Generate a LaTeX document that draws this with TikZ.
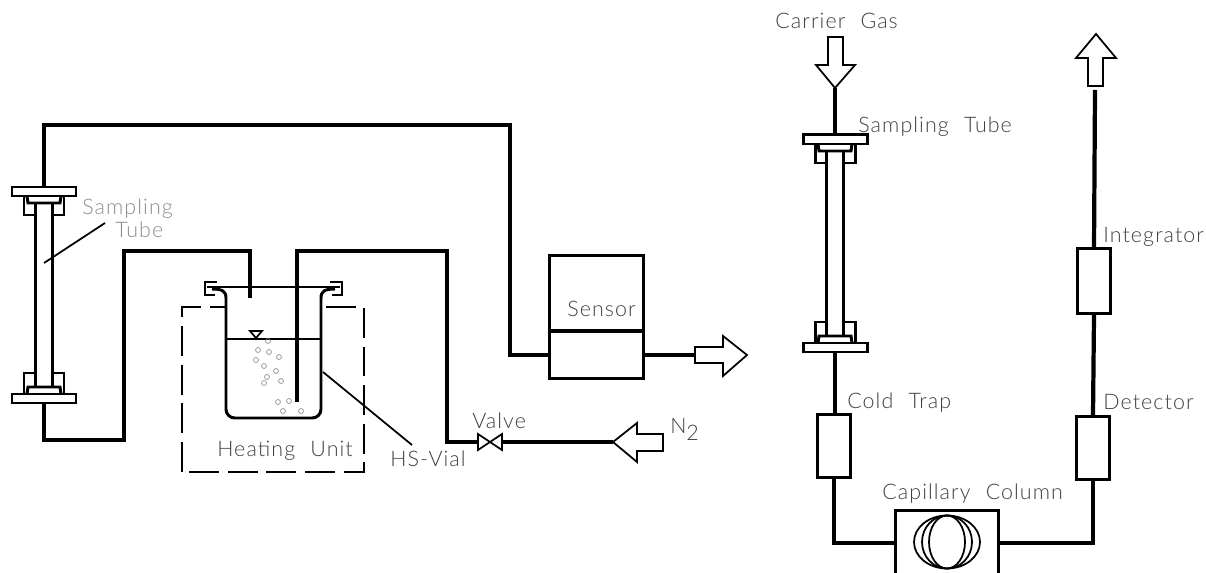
\documentclass[tikz,border=0pt]{standalone}
\usepackage{fontspec}
\setmainfont[LetterSpace=5,WordSpace=2.2]{Lato Light}
\tikzset{
  pipe/.style={line width=2.4pt},
  wall/.style={line width=1.7pt},
  thin wall/.style={line width=1pt},
  unit/.style={draw,line width=1.7pt,inner sep=0pt,minimum width=#1},
  lbl/.style={inner sep=0pt,anchor=base west,text=black!75,font=\fontsize{12.2}{13}\selectfont},
  bubble/.style={draw=black!50,line width=.35pt,circle,inner sep=0pt,minimum size=2.8pt},
}
% one sampling tube, flanges included, centre at #1, from y #2 to y #3
\newcommand{\samplingtube}[3]{
  \draw[wall] (#1-32,#2) rectangle (#1+32,#2+9);
  \draw[wall] (#1-17,#2+9) -- (#1-16,#2+16) -- (#1+16,#2+16) -- (#1+17,#2+9);
  \draw[wall] (#1-20,#2+9) -- (#1-20,#2+28) -- (#1-8.5,#2+28);
  \draw[wall] (#1+20,#2+9) -- (#1+20,#2+28) -- (#1+8.5,#2+28);
  \draw[wall] (#1-8.5,#2+16) -- (#1-8.5,#3-16);
  \draw[wall] (#1+8.5,#2+16) -- (#1+8.5,#3-16);
  \draw[wall] (#1-32,#3) rectangle (#1+32,#3-9);
  \draw[wall] (#1-17,#3-9) -- (#1-16,#3-16) -- (#1+16,#3-16) -- (#1+17,#3-9);
  \draw[wall] (#1-20,#3-9) -- (#1-20,#3-30) -- (#1-8.5,#3-30);
  \draw[wall] (#1+20,#3-9) -- (#1+20,#3-30) -- (#1+8.5,#3-30);
}
\begin{document}
\begin{tikzpicture}[x=0.02cm,y=-0.02cm]
  \useasboundingbox (0,0) rectangle (1206,573);

  % heating unit, vial on top of it
  \draw[wall,dash pattern=on 17pt off 5pt] (182,472) -- (182,307) -- (364,307) -- (364,472) -- cycle;
  \fill[white] (226,295) rectangle (321,418);
  \draw[wall,rounded corners=5pt] (226,298) -- (226,418) -- (321,418) -- (321,298);
  \draw[wall] (226,298) .. controls (226,291) and (222,289) .. (212,289);
  \draw[wall] (321,298) .. controls (321,291) and (325,289) .. (335,289);
  \draw[wall] (215,295) -- (205,295) -- (205,282) -- (217,282);
  \draw[wall] (332,295) -- (342,295) -- (342,282) -- (330,282);
  \draw[wall] (207,287) -- (340,287);
  \draw[thin wall] (226,339) -- (321,339);
  \draw[thin wall] (250,331) -- (262,331) -- (256,338) -- cycle;
  \foreach \bx/\by in {258/350,269/352,256/360,279/357,264/366,276/371,267/377,264/383,281/381,289/401,278/402,283/411,301/411,268/341}
    \node[bubble] at (\bx,\by) {};

  % left side
  \samplingtube{44}{187}{403}
  \coordinate (tubetop) at (44,187);
  \coordinate (tubebottom) at (44,403);
  \coordinate (tubeinner) at (250,298);
  \coordinate (sparger) at (297,402);
  \node[unit=95*0.567pt,minimum height=76*0.567pt] (sensorupper) at (596.5,293) {};
  \node[unit=95*0.567pt,minimum height=48*0.567pt] (sensorlower) at (596.5,355) {};
  \node[lbl] at (567,317) {Sensor};

  \coordinate (valveleft) at (478,442);
  \coordinate (valveright) at (502,442);
  \draw[thin wall] (valveleft) -- ++(0,-8) -- (502,450) -- ++(0,-16) -- (478,450) -- cycle;

  \draw[pipe] (tubetop) |- (510,125) |- (sensorlower.west);
  \draw[pipe] (tubebottom) |- (124,440) |- (250,251) -- (tubeinner);
  \draw[pipe] (sparger) |- (447,251) |- (valveleft);

  \coordinate (nitrogentip) at (613,442);
  \draw[thin wall] (nitrogentip) -- (637,423) -- (637,434) -- (663,434) -- (663,451) -- (637,451) -- (637,462) -- cycle;
  \draw[pipe] (valveright) -- (nitrogentip);

  \coordinate (venttail) at (695,355);
  \draw[thin wall] (venttail) -- (695,347) -- (723,347) -- (723,336) -- (747,355) -- (723,376) -- (723,363) -- (695,363) -- cycle;
  \draw[pipe] (sensorlower.east) -- (venttail);

  \draw[thin wall] (44,263) -- (105,223);
  \draw[thin wall] (323,372) -- (412,445);
  \node[lbl,text=black!45] at (82,215) {Sampling};
  \node[lbl,text=black!45] at (115,238) {Tube};
  \node[lbl] at (217,457) {Heating Unit};
  \node[lbl] at (390,467) {HS-Vial};
  \node[lbl] at (472,429) {Valve};
  \node[lbl] at (670,434) {N};
  \node[lbl] at (686,441) {2};

  % right side
  \samplingtube{835}{135}{352}
  \node[unit=33*0.567pt,minimum height=64*0.567pt] (coldtrap) at (834,446) {};
  \node[minimum width=103*0.567pt,minimum height=64*0.567pt,inner sep=0pt] (column) at (947,543) {};
  \draw[wall] (column.south west) |- (column.north east) -- (column.south east);
  \foreach \rx in {33,25,18}
    \draw[thin wall] (947,542) ellipse[x radius=\rx,y radius=26.5];
  \node[unit=33*0.567pt,minimum height=63*0.567pt] (detector) at (1093,448) {};
  \node[unit=33*0.567pt,minimum height=65*0.567pt] (integrator) at (1094,281) {};

  \coordinate (carriertip) at (835,88);
  \coordinate (flangetop) at (835,135);
  \coordinate (flangebottom) at (835,352);
  \draw[thin wall] (carriertip) -- (816,65) -- (828,65) -- (828,37) -- (843,37) -- (843,65) -- (855,65) -- cycle;
  \coordinate (exittail) at (1095,90);
  \draw[thin wall] (1088,86) -- (1088,58) -- (1076,58) -- (1096,34) -- (1116,58) -- (1103,58) -- (1103,86) -- cycle;
  \draw[pipe] (carriertip) -- (flangetop);
  \draw[pipe] (flangebottom) -- (flangebottom |- coldtrap.north);
  \draw[pipe] (coldtrap.south) |- (column.west);
  \draw[pipe] (column.east) -| (detector.south);
  \draw[pipe] (detector.north) -- (integrator.south);
  \draw[pipe] (integrator.north) -- (exittail);

  \node[lbl] at (775,29) {Carrier Gas};
  \node[lbl] at (858,133) {Sampling Tube};
  \node[lbl] at (847,409) {Cold Trap};
  \node[lbl] at (882,500) {Capillary Column};
  \node[lbl] at (1103,410) {Detector};
  \node[lbl] at (1103,243) {Integrator};
\end{tikzpicture}
\end{document}
